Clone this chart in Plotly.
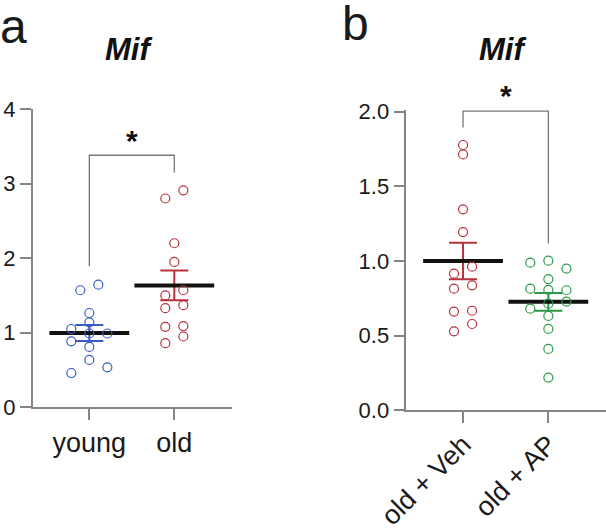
import numpy as np
import plotly.graph_objects as go

# Mif expression (relative), panel a
age_groups = ['young', 'old']
young = [1.05, 1.57, 1.645, 1.265, 1.14, 0.99, 0.99, 0.885, 0.81, 0.635, 0.536, 0.46]
old = [2.80, 2.91, 2.20, 1.95, 1.50, 1.57, 1.33, 1.37, 1.08, 1.09, 0.95, 0.86]

# panel b
treat_groups = ['old + Veh', 'old + AP']
veh = [1.777, 1.714, 1.346, 1.194, 0.915, 0.962, 0.815, 0.837, 0.661, 0.667, 0.578, 0.529]
ap = [0.989, 1.002, 0.949, 0.879, 0.815, 0.806, 0.804, 0.728, 0.714, 0.681, 0.632,
      0.545, 0.411, 0.219]

# column of each dot inside its group (dot-plot spread)
young_col = [-2, -1, 1, 0, 0, 0, 2, -2, 0, 0, 2, -2]
old_col = [-1, 1, 0, 0, -1, 1, -1, 1, -1, 1, 1, -1]
veh_col = [0, 0, 0, 0, -1, 1, -1, 1, -1, 1, 1, -1]
ap_col = [-2, 0, 2, 0, -2, 0, 2, 2, 0, -2, 0, 0, 0, 0]

# significance brackets: left foot, top, right foot
bracket_a = [1.89, 3.38, 3.15]
bracket_b = [1.895, 2.004, 1.118]

BLUE = '#3a5cc4'
RED = '#b8323c'
GREEN = '#2e9a48'
AXIS = '#858585'
FONT = 'Liberation Sans, Arial, sans-serif'
STEP = 0.106

fig = go.Figure()


def add_group(vals, cols, pos, color, xa, ya):
    vals = np.array(vals)
    x = pos + STEP * np.array(cols)
    mean = vals.mean()
    sem = vals.std(ddof=1) / np.sqrt(len(vals))
    # sem bar
    fig.add_trace(go.Scatter(
        x=[pos], y=[mean], mode='markers', marker=dict(size=1, opacity=0),
        error_y=dict(type='data', array=[sem], color=color, thickness=2, width=14),
        xaxis=xa, yaxis=ya, showlegend=False, hoverinfo='skip'))
    # mean line
    fig.add_trace(go.Scatter(
        x=[pos], y=[mean], mode='markers',
        marker=dict(symbol='line-ew-open', size=57, color='#111111',
                    line=dict(color='#111111', width=4)),
        xaxis=xa, yaxis=ya, showlegend=False, hoverinfo='skip'))
    fig.add_trace(go.Scatter(
        x=x, y=vals, mode='markers',
        marker=dict(symbol='circle-open', size=9, color=color, line=dict(width=1.2, color=color)),
        xaxis=xa, yaxis=ya, showlegend=False))


add_group(young, young_col, 0, BLUE, 'x', 'y')
add_group(old, old_col, 1, RED, 'x', 'y')
add_group(veh, veh_col, 0, RED, 'x2', 'y2')
add_group(ap, ap_col, 1, GREEN, 'x2', 'y2')

for br, xa, ya in [(bracket_a, 'x', 'y'), (bracket_b, 'x2', 'y2')]:
    fig.add_trace(go.Scatter(
        x=[0, 0, 1, 1], y=[br[0], br[1], br[1], br[2]], mode='lines',
        line=dict(color='#777777', width=1.3), cliponaxis=False,
        xaxis=xa, yaxis=ya, showlegend=False, hoverinfo='skip'))

ax_common = dict(showline=True, linecolor=AXIS, linewidth=1.5, ticks='outside',
                 ticklen=11, tickwidth=1.5, tickcolor=AXIS, showgrid=False,
                 zeroline=False, automargin=False)

fig.update_layout(
    width=606, height=531,
    margin=dict(l=0, r=0, t=0, b=0),
    paper_bgcolor='white', plot_bgcolor='white',
    font=dict(family=FONT, color='#1a1a1a'),
    xaxis=dict(domain=[0.054, 0.3823], range=[-0.666, 1.675], tickvals=[0, 1],
               ticktext=age_groups, tickfont=dict(size=27), anchor='y', **ax_common),
    yaxis=dict(domain=[0.2329, 0.7947], range=[0, 4], tickvals=[0, 1, 2, 3, 4],
               tickfont=dict(size=22), anchor='x', **ax_common),
    xaxis2=dict(domain=[0.6705, 1.0], range=[-0.665, 1.676], tickvals=[0, 1],
                ticktext=treat_groups, tickangle=-45, tickfont=dict(size=27),
                ticklabelstandoff=-5, anchor='y2', **ax_common),
    yaxis2=dict(domain=[0.2273, 0.7930], range=[0, 2.012], tickvals=[0, 0.5, 1, 1.5, 2],
                tickformat='.1f', tickfont=dict(size=22), anchor='x2', **ax_common),
)

# panel letters and titles
fig.add_annotation(text='a', xref='paper', yref='paper', x=0.0, y=0.8965, xshift=-2,
                   xanchor='left', yanchor='bottom', showarrow=False, font=dict(size=48))
fig.add_annotation(text='b', xref='paper', yref='paper', x=0.5644, y=0.9085, xshift=-2,
                   yshift=-3, xanchor='left', yanchor='bottom', showarrow=False,
                   font=dict(size=48))
for xa in ['x', 'x2']:
    fig.add_annotation(text='<b><i>Mif</i></b>', xref=xa, yref='paper', x=0.5, y=0.8708,
                       xshift=-3, xanchor='center', yanchor='bottom', showarrow=False,
                       font=dict(size=31, color='#111111'))

# stars
fig.add_annotation(text='<b>*</b>', xref='x', yref='y', x=0.5, y=3.63, yshift=-4,
                   showarrow=False, font=dict(size=30, color='#111111'))
fig.add_annotation(text='<b>*</b>', xref='x2', yref='y2', x=0.5, y=2.0, yshift=16,
                   showarrow=False, font=dict(size=30, color='#111111'))

fig.write_html("out.html", config={'displayModeBar': False},
               post_script="document.body.style.margin='0';")
